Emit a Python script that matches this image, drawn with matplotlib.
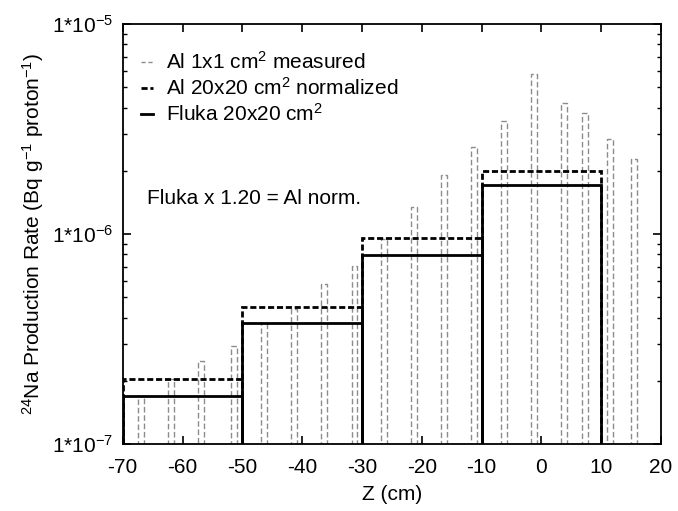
import matplotlib
matplotlib.use('Agg')
import matplotlib.pyplot as plt
from matplotlib.lines import Line2D
from matplotlib.ticker import LogLocator, FixedLocator

plt.rcParams['font.family'] = ['Liberation Sans', 'DejaVu Sans']
plt.rcParams['mathtext.fontset'] = 'custom'
plt.rcParams['mathtext.rm'] = 'Liberation Sans'
plt.rcParams['mathtext.it'] = 'Liberation Sans:italic'
plt.rcParams['mathtext.default'] = 'rm'

# measured 1x1 cm2 samples (bar centres in cm, rate in Bq/g/proton)
meas_z = [-66.9, -61.9, -56.9, -51.35, -46.3, -41.3, -36.4, -31.25, -26.3,
          -21.3, -16.3, -11.3, -6.3, -1.3, 3.7, 7.35, 11.4, 15.4]
meas_rate = [1.70e-7, 2.03e-7, 2.49e-7, 2.94e-7, 3.76e-7, 4.38e-7, 5.78e-7,
             7.06e-7, 9.5e-7, 1.34e-6, 1.91e-6, 2.61e-6, 3.46e-6, 5.80e-6,
             4.22e-6, 3.76e-6, 2.84e-6, 2.27e-6]

# 20x20 cm blocks
block_left = [-70, -50, -30, -10]
al_norm = [2.03e-7, 4.48e-7, 9.54e-7, 2.0e-6]
fluka = [1.70e-7, 3.76e-7, 7.94e-7, 1.71e-6]

xticks = [-70, -60, -50, -40, -30, -20, -10, 0, 10, 20]

fig = plt.figure(figsize=(6.78, 5.11), dpi=100)
ax = fig.add_axes([0.181, 0.131, 0.794, 0.822])
ax.set_yscale('log')

ax.bar(meas_z, [r - 1e-8 for r in meas_rate], width=1.0, bottom=1e-8,
       fill=False, edgecolor='#8c8c8c', linewidth=1.0, linestyle=(0, (4, 2)),
       zorder=2)
ax.bar(block_left, [v - 1e-8 for v in al_norm], width=20, bottom=1e-8,
       align='edge', fill=False, edgecolor='black', linewidth=2.0,
       linestyle=(0, (2.2, 1.0)), zorder=3)
ax.bar(block_left, [v - 1e-8 for v in fluka], width=20, bottom=1e-8,
       align='edge', fill=False, edgecolor='black', linewidth=2.0, zorder=4)

ax.set_xlim(-70, 20)
ax.set_ylim(1e-7, 1e-5)
ax.xaxis.set_major_locator(FixedLocator(xticks))
ax.set_xticklabels([str(t) for t in xticks])
ax.yaxis.set_major_locator(FixedLocator([1e-7, 1e-6, 1e-5]))
ax.set_yticklabels([r'1*10$^{-7}$', r'1*10$^{-6}$', r'1*10$^{-5}$'])
ax.yaxis.set_minor_locator(LogLocator(base=10, subs=range(2, 10)))
ax.yaxis.set_minor_formatter(plt.NullFormatter())
ax.tick_params(which='both', direction='in', top=True, right=True,
               labelsize=15, color='black')
ax.tick_params(which='major', length=6, width=1.2, pad=7)
ax.tick_params(axis='x', which='major', pad=10)
ax.tick_params(which='minor', length=3, width=1.0)
for s in ax.spines.values():
    s.set_linewidth(1.3)

ax.set_xlabel('Z (cm)', fontsize=15, labelpad=6)
ax.set_ylabel(r'$^{24}$Na Production Rate (Bq g$^{-1}$ proton$^{-1}$)',
              fontsize=15, labelpad=4)

handles = [
    Line2D([], [], color='#8c8c8c', lw=1.0, ls=(0, (3, 2))),
    Line2D([], [], color='black', lw=2.0, ls=(0, (2.2, 1.0))),
    Line2D([], [], color='black', lw=2.0),
]
labels = [r'Al 1x1 cm$^2$ measured', r'Al 20x20 cm$^2$ normalized',
          r'Fluka 20x20 cm$^2$']
ax.legend(handles, labels, loc='upper left', frameon=False, fontsize=15,
          handlelength=0.6, handletextpad=0.6, labelspacing=0.2,
          borderaxespad=0.6, bbox_to_anchor=(-0.005, 0.985))

ax.text(0.046, 0.585, 'Fluka x 1.20 = Al norm.', transform=ax.transAxes,
        fontsize=15, va='center', ha='left')

fig.savefig('out.png', dpi=100)
